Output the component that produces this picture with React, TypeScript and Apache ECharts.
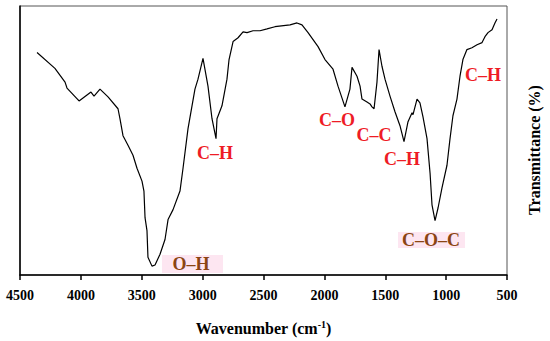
import React, { useEffect, useRef } from "react";
import * as echarts from "echarts";

const wavenumbers = [
  4360, 4213, 4130, 4114, 4015, 3917, 3892, 3843, 3777, 3695, 3679, 3654, 3613, 3572, 3539,
  3498, 3482, 3473, 3457, 3449, 3416, 3391, 3350, 3309, 3284, 3243, 3186, 3161, 3120, 3063,
  3038, 2997, 2956, 2923, 2890, 2882, 2841, 2800, 2783, 2750, 2709, 2668, 2635, 2586, 2529,
  2471, 2406, 2282, 2225, 2184, 2134, 2052, 1995, 1929, 1888, 1831, 1790, 1773, 1732, 1707,
  1691, 1650, 1625, 1609, 1592, 1568, 1551, 1527, 1502, 1461, 1420, 1379, 1346, 1313, 1280,
  1272, 1239, 1215, 1190, 1157, 1132, 1116, 1091, 1066, 1034, 993, 968, 944, 911, 886, 862,
  829, 788, 746, 705, 681, 656, 623, 599, 582,
];
const transmittance = [
  82.7, 76.8, 71.7, 69.5, 64.7, 68.0, 66.5, 69.1, 66.2, 61.8, 58.1, 51.8, 48.2, 44.5, 39.7,
  34.9, 31.2, 21.3, 16.5, 6.6, 3.3, 3.7, 7.7, 13.2, 20.6, 24.3, 31.2, 39.7, 54.4, 69.1,
  72.8, 80.5, 70.2, 58.1, 50.7, 58.1, 62.9, 72.8, 80.1, 86.8, 88.2, 90.4, 90.1, 90.8, 90.8,
  91.5, 92.3, 93.0, 93.7, 93.0, 90.1, 84.9, 80.1, 76.5, 70.2, 62.5, 69.1, 77.2, 73.9, 70.2,
  65.4, 64.3, 63.6, 62.5, 61.8, 71.7, 83.8, 77.6, 72.8, 66.5, 60.7, 55.5, 49.6, 57.0, 60.3,
  59.6, 65.4, 64.0, 58.8, 50.7, 37.9, 26.1, 20.2, 25.0, 32.4, 40.8, 50.7, 59.2, 65.4, 73.9, 80.1,
  83.8, 84.5, 85.6, 86.4, 88.6, 90.1, 91.2, 93.7, 95.2,
];
const xTicks = [500, 4500, 500]; // min, max, interval
const xTitle = "Wavenumber (cm";
const xTitleSup = "-1";
const yTitle = "Transmittance (%)";
const bondLabels = ["C\u2013H", "O\u2013H", "C\u2013O", "C\u2013C", "C\u2013H", "C\u2013O\u2013C", "C\u2013H"];

const FONT = "Liberation Serif";
const RED = "#ee1c25";
const BROWN = "#8b4513";
const PINK = "#fde6f1";

export default function App() {
  const ref = useRef<HTMLDivElement>(null);
  useEffect(() => {
    if (!ref.current) return;
    const chart = echarts.init(ref.current, undefined, { renderer: "svg" });
    const data = wavenumbers.map((w, i) => [w, transmittance[i]]);
    const lbl = (text: string, x: number, y: number, color: string) => ({
      type: "text",
      x,
      y,
      z: 10,
      style: {
        text,
        fill: color,
        fontFamily: FONT,
        fontWeight: "bold",
        fontSize: 18,
        textAlign: "center",
        textVerticalAlign: "middle",
      },
    });
    chart.setOption({
      animation: false,
      backgroundColor: "#fff",
      grid: {
        left: 20,
        right: 43,
        top: 6,
        bottom: 63,
        show: true,
        borderColor: "#555",
        borderWidth: 1,
      },
      xAxis: {
        type: "value",
        min: xTicks[0],
        max: xTicks[1],
        interval: xTicks[2],
        inverse: true,
        axisLine: { show: true, lineStyle: { color: "#000", width: 1.5 } },
        axisTick: { show: true, inside: false, length: 5, lineStyle: { color: "#000", width: 1.5 } },
        splitLine: { show: false },
        axisLabel: {
          color: "#000",
          fontFamily: FONT,
          fontWeight: "bold",
          fontSize: 14,
          margin: 13,
          formatter: (v: number) => String(v),
        },
        name: `{a|${xTitle}}{b|${xTitleSup}}{a|)}`,
        nameLocation: "middle",
        nameGap: 44,
        nameTextStyle: {
          rich: {
            a: { fontFamily: FONT, fontWeight: "bold", fontSize: 16, color: "#000" },
            b: { fontFamily: FONT, fontWeight: "bold", fontSize: 10, color: "#000", padding: [0, 0, 8, 0] },
          },
        },
      },
      yAxis: {
        type: "value",
        min: 0,
        max: 100,
        axisLine: { show: true, lineStyle: { color: "#000", width: 1.5 } },
        axisTick: { show: false },
        axisLabel: { show: false },
        splitLine: { show: false },
      },
      series: [
        {
          type: "line",
          data,
          showSymbol: false,
          symbol: "none",
          lineStyle: { color: "#000", width: 1.2 },
        },
      ],
      graphic: [
        { type: "rect", shape: { x: 162, y: 255, width: 61, height: 18 }, style: { fill: PINK }, z: 5 },
        { type: "rect", shape: { x: 398, y: 232, width: 67, height: 16 }, style: { fill: PINK }, z: 5 },
        lbl(bondLabels[0], 215, 153, RED),
        lbl(bondLabels[1], 191, 264, BROWN),
        lbl(bondLabels[2], 337, 120, RED),
        lbl(bondLabels[3], 374, 135, RED),
        lbl(bondLabels[4], 402, 159, RED),
        lbl(bondLabels[5], 431, 240, BROWN),
        lbl(bondLabels[6], 483, 75, RED),
        {
          type: "text",
          x: 534,
          y: 150,
          rotation: Math.PI / 2,
          style: {
            text: yTitle,
            fill: "#000",
            fontFamily: FONT,
            fontWeight: "bold",
            fontSize: 16,
            textAlign: "center",
            textVerticalAlign: "middle",
          },
        },
      ],
    });
    return () => chart.dispose();
  }, []);
  return <div ref={ref} style={{ width: 550, height: 341, position: "absolute", left: 0, top: 0 }} />;
}
